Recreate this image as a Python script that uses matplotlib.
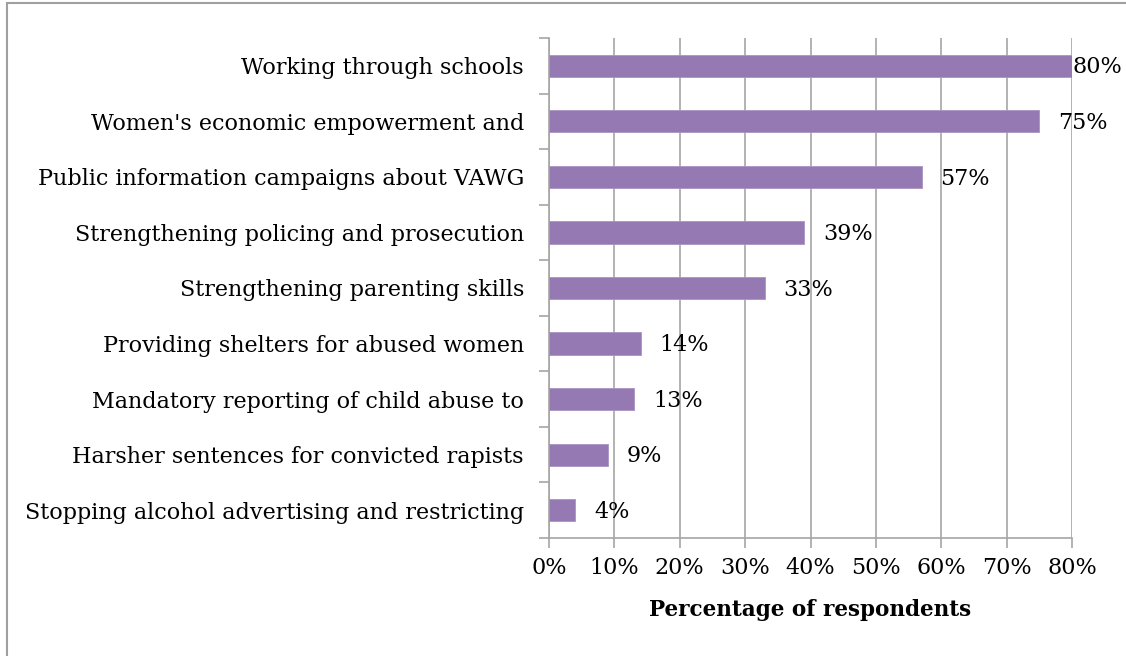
import matplotlib
matplotlib.use("Agg")
import matplotlib.pyplot as plt
from matplotlib.patches import Rectangle
from matplotlib.ticker import MultipleLocator, FuncFormatter

categories = [
    "Working through schools",
    "Women's economic empowerment and",
    "Public information campaigns about VAWG",
    "Strengthening policing and prosecution",
    "Strengthening parenting skills",
    "Providing shelters for abused women",
    "Mandatory reporting of child abuse to",
    "Harsher sentences for convicted rapists",
    "Stopping alcohol advertising and restricting",
]
values = [80, 75, 57, 39, 33, 14, 13, 9, 4]
x_label = "Percentage of respondents"

plt.rcParams["font.family"] = ["DejaVu Serif"]

W, H = 1126, 656
fig = plt.figure(figsize=(W / 100, H / 100), dpi=100)
ax = fig.add_axes([549 / W, 1 - 538 / H, (1072 - 549) / W, 500 / H])

n = len(categories)
ypos = list(range(n))
ax.barh(ypos, values, height=0.4, color="#9479B2", edgecolor="#A993C4",
        linewidth=0.6, zorder=3)
ax.set_ylim(n - 0.5, -0.5)
ax.set_xlim(0, 80)

for y, v in zip(ypos, values):
    ax.text(min(v + 2.9, 80.15), y + 0.03, f"{v}%", va="center", ha="left",
            fontsize=16, color="black", zorder=4, clip_on=False)

ax.xaxis.set_major_locator(MultipleLocator(10))
ax.xaxis.set_major_formatter(FuncFormatter(lambda x, p: f"{x:.0f}%"))
ax.grid(axis="x", color="#A6A6A6", linewidth=1.2, zorder=0)
ax.set_yticks(ypos)
ax.set_yticklabels(categories, fontsize=16)
ax.set_yticks([i - 0.5 for i in range(n + 1)], minor=True)
ax.tick_params(axis="y", which="major", length=0, pad=18)
ax.tick_params(axis="y", which="minor", length=7, color="#A6A6A6", width=1.2)
ax.tick_params(axis="x", length=7, color="#A6A6A6", width=1.2, labelsize=16, pad=7)

for side in ("top", "right"):
    ax.spines[side].set_visible(False)
for side in ("left", "bottom"):
    ax.spines[side].set_color("#A6A6A6")
    ax.spines[side].set_linewidth(1.2)

ax.set_xlabel(x_label, fontsize=15.5, fontweight="bold", labelpad=14)

fig.patches.append(Rectangle((7 / W, -0.1), 1.2, 1 - 2.5 / H + 0.1,
                             transform=fig.transFigure, fill=False,
                             edgecolor="#A0A0A0", linewidth=1.5))

fig.savefig("out.png", dpi=100)
